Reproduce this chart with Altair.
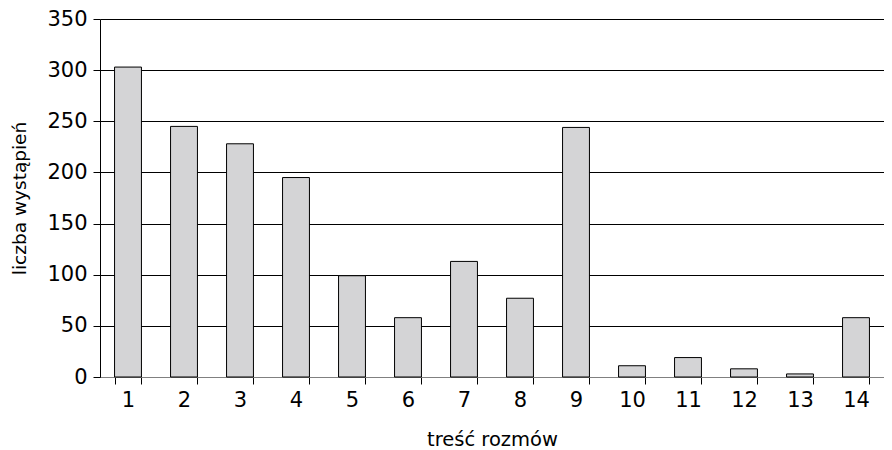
import altair as alt
import pandas as pd

categories = [str(i) for i in range(1, 15)]
values = [303, 245, 228, 195, 99, 58, 113, 77, 244, 11, 19, 8, 3, 58]

df = pd.DataFrame({"kat": categories, "val": values})

font = "DejaVu Sans"

chart = alt.Chart(df).mark_bar(
    fill="#d4d4d6", stroke="#000000", strokeWidth=1
).encode(
    x=alt.X("kat:N", sort=categories,
            scale=alt.Scale(paddingInner=0.52, paddingOuter=0.26),
            axis=alt.Axis(title="treść rozmów", labelAngle=0, tickBand="extent",
                          domainColor="#808080", tickColor="#000000", tickSize=7,
                          labelPadding=5, titlePadding=20, labelFontSize=21,
                          titleFontSize=19.5, labelFont=font, titleFont=font,
                          labelColor="#000", titleColor="#000", titleFontWeight="normal",
                          grid=False)),
    y=alt.Y("val:Q", scale=alt.Scale(domain=[0, 350]),
            axis=alt.Axis(title="liczba wystąpień", values=list(range(0, 351, 50)),
                          domainColor="#000000", tickColor="#000000", tickSize=7,
                          labelPadding=6, titlePadding=17, labelFontSize=21,
                          titleFontSize=18.5, labelFont=font, titleFont=font,
                          labelColor="#000", titleColor="#000", titleFontWeight="normal",
                          grid=True, gridColor="#000000", gridWidth=1, gridOpacity=1)),
).properties(
    width=784, height=358,
    padding={"left": 2, "top": 0, "right": 0, "bottom": 0},
).configure_view(stroke=None)

chart.save("out.html", embed_options={"renderer": "svg", "actions": False})
